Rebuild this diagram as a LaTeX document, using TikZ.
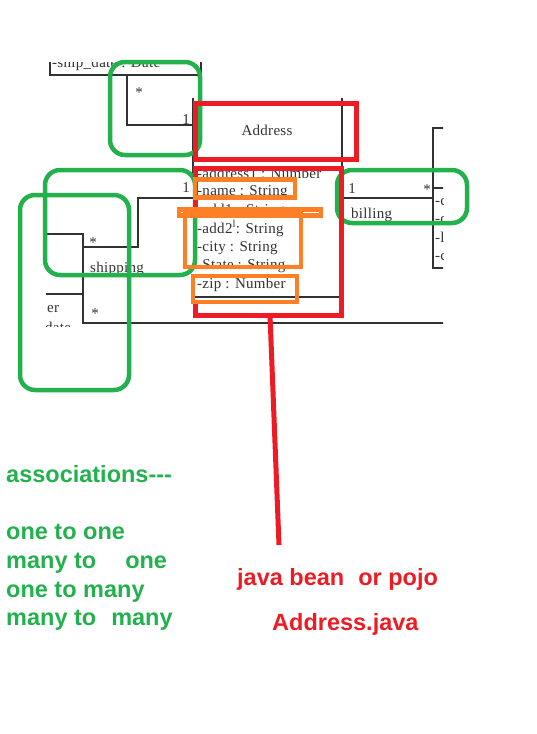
\documentclass[tikz,border=0pt]{standalone}
\usepackage{fontspec}
\newfontfamily\umlfont[LetterSpace=2]{Liberation Serif}
\newfontfamily\notefont{Liberation Sans}
\definecolor{markgreen}{RGB}{34,177,76}
\definecolor{markred}{RGB}{237,28,36}
\definecolor{markorange}{RGB}{255,127,39}
\definecolor{umlgray}{RGB}{50,50,50}

\begin{document}
\begin{tikzpicture}[x=1pt, y=-1pt,
                umlline/.style={draw=umlgray, line width=1.3pt},
                umltext/.style={font=\umlfont\fontsize{15}{17}\selectfont, text=umlgray,
                                inner sep=0pt, anchor=base west},
                multlabel/.style={umltext, anchor=base},
                greenmark/.style={draw=markgreen, line width=4.5pt, rounded corners=15pt},
                redmark/.style={draw=markred, line width=5pt},
                orangemark/.style={draw=markorange, line width=4.5pt},
                greennote/.style={font=\notefont\bfseries\fontsize{23.5}{28}\selectfont,
                                  text=markgreen, inner sep=0pt, anchor=base west},
                rednote/.style={greennote, text=markred}]

                \useasboundingbox (0,0) rectangle (536,734);

                % Cropped class diagram
                \begin{scope}
                    \clip (46,62) rectangle (443,326);

                    % ship_date class - top
                    \node[umltext] (shipdate) at (52,67) {-ship\_date : Date};
                    \draw[umlline] (50,58) |- (201,75) -- (201,58);
                    \coordinate (shipfoot) at (127,75);

                    % Address class - middle
                    \node[umltext, anchor=base] (addrname) at (267,135) {Address};
                    \draw[umlline] (193,98) -- (193,178);
                    \draw[umlline] (342,98) -- (342,300);
                    \draw[umlline] (195,297) -- (342,297);
                    \node[umltext] (attraddr) at (197,178) {-address1 : Number};
                    \node[umltext] (attrname) at (197,195) {-name : String};
                    \node[umltext] (attradd1) at (197,214) {-add1 : String};
                    \node[umltext] (attradd2) at (197,233) {-add2\textsuperscript{l}: String};
                    \node[umltext] (attrcity) at (197,251) {-city : String};
                    \node[umltext] (attrstate) at (197,269) {-State : String};
                    \node[umltext] (attrzip) at (197,288) {-zip : Number};
                    \coordinate (addrwest) at (193,125);
                    \coordinate (shipwest) at (193,198);
                    \coordinate (billeast) at (342,198);

                    % Order class - left
                    \draw[umlline] (40,234) -| (83,323) -- (450,323);
                    \draw[umlline] (40,294) -- (83,294);
                    \node[umltext] (ordertail) at (47,312) {er};
                    \node[umltext] (datetail) at (45,332) {date};
                    \coordinate (ordereast) at (83,247);
                    \coordinate (shipbend) at (138,247);

                    % Billing class - right
                    \draw[umlline] (450,128) -| (433,268) -- (450,268);
                    \draw[umlline, line width=2pt] (433,188) -- (450,188);
                    \node[umltext] (billattra) at (435,205) {-c};
                    \node[umltext] (billattrb) at (435,223) {-c};
                    \node[umltext] (billattrc) at (435,242) {-l};
                    \node[umltext] (billattrd) at (435,260) {-c};
                    \coordinate (billwest) at (433,198);

                    % Associations
                    \draw[umlline] (shipfoot) |- (addrwest);
                    \draw[umlline] (shipwest) -| (shipbend) -- (ordereast);
                    \draw[umlline] (billeast) -- (billwest);

                    % Multiplicities and roles
                    \node[multlabel] (shipmany) at (139,97) {*};
                    \node[multlabel] (shipone) at (186,124) {1};
                    \node[multlabel] (addrone) at (186,192) {1};
                    \node[multlabel] (ordermanya) at (93,247) {*};
                    \node[multlabel] (ordermanyb) at (95,318) {*};
                    \node[umltext] (shiprole) at (90,272) {shipping};
                    \node[multlabel] (billone) at (352,193) {1};
                    \node[multlabel] (billmany) at (427,194) {*};
                    \node[umltext] (billrole) at (351,218) {billing};
                \end{scope}

                % Association marks (green)
                \draw[greenmark] (110,62) rectangle (200,155);
                \draw[greenmark] (45,170) rectangle (195,275);
                \draw[greenmark] (20,195) rectangle (129,390);
                \draw[greenmark] (337,170) rectangle (467,223);

                % Bean marks (red)
                \node[redmark, anchor=north west, minimum width=161pt, minimum height=56pt,
                      inner sep=0pt] (classmark) at (192.5,100.5) {};
                \draw[redmark] (195,212) -- (195,168.5) -- (341,168.5) -- (341,315) -- (195,315) -- (195,303);
                \coordinate (beanfoot) at (270,315);
                \coordinate (beantip) at (279,545);
                \draw[redmark] (beanfoot) -- (beantip);

                % Attribute marks (orange)
                \draw[orangemark] (195,179.5) rectangle (295,197.5);
                \draw[orangemark] (179,209.5) rectangle (321,215.5);
                \draw[orangemark] (185,212) rectangle (301,267);
                \draw[orangemark] (193,276) rectangle (297,302);

                % Notes
                \node[greennote] (assoc) at (6,482) {associations---};
                \node[greennote] (oneone) at (6,539) {one to one};
                \node[greennote] (manyone) at (6,568) {many to\hspace{29pt}one};
                \node[greennote] (onemany) at (6,597) {one to many};
                \node[greennote] (manymany) at (6,625) {many to\hspace{15pt}many};
                \node[rednote] (bean) at (237,585) {java bean\hspace{14pt}or pojo};
                \node[rednote] (addrjava) at (272,630) {Address.java};
            \end{tikzpicture}
\end{document}
